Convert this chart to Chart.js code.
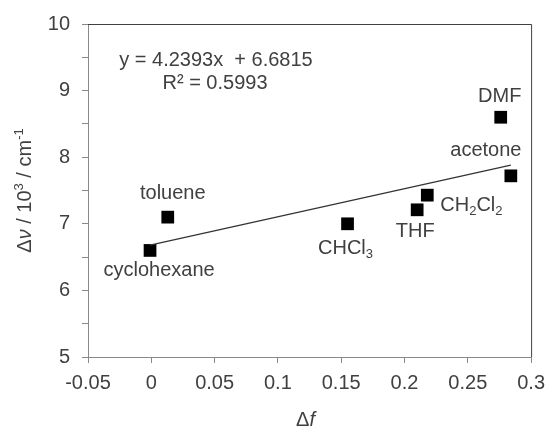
<!DOCTYPE html>
<html>
<head>
<meta charset="utf-8">
<script src="https://cdn.jsdelivr.net/npm/chart.js@4.4.1/dist/chart.umd.min.js"></script>
<style>
  body { margin: 0; background: #fff; }
</style>
</head>
<body>
<canvas id="myChart" width="553" height="432"></canvas>
<script>
// values
const solvents = ['cyclohexane', 'toluene', 'CHCl3', 'THF', 'CH2Cl2', 'acetone', 'DMF'];
const deltaF = [-0.001, 0.013, 0.155, 0.210, 0.218, 0.284, 0.276];
const deltaNu = [6.60, 7.10, 7.00, 7.21, 7.43, 7.72, 8.60];
const trendX = [-0.001, 0.284];
const trendY = [6.68, 7.88];
const xTicks = [-0.05, 0, 0.05, 0.1, 0.15, 0.2, 0.25, 0.3];
const yTicks = [5, 6, 7, 8, 9, 10];
const fitText = ['y = 4.2393x  + 6.6815', 'R\u00b2 = 0.5993'];

const FONT = "'Liberation Sans', Arial, sans-serif";
const TEXT = '#404040';
const AXIS = '#898989';

// where each label sits relative to its point (px)
const labelOffsets = {
  cyclohexane: [9, 20, 'center'],
  toluene: [5, -24, 'center'],
  CHCl3: [-2, 25, 'center'],
  THF: [-2, 22, 'center'],
  CH2Cl2: [13, 10, 'left'],
  acetone: [-25, -25, 'center'],
  DMF: [-1, -21, 'center']
};

// split "CH2Cl2" into text + subscripts
function chemParts(name) {
  const parts = [];
  name.replace(/(\d+)|(\D+)/g, (m, d, t) => {
    parts.push(d ? { text: d, sub: true } : { text: t });
  });
  return parts;
}

function drawRich(ctx, parts, x, y, align, size) {
  const small = Math.round(size * 0.65);
  const fontOf = p => (p.italic ? 'italic ' : '') + (p.sub || p.sup ? small : size) + 'px ' + FONT;
  let total = 0;
  parts.forEach(p => { ctx.font = fontOf(p); p.w = ctx.measureText(p.text).width; total += p.w; });
  let cx = align === 'left' ? x : x - total / 2;
  ctx.textAlign = 'left';
  ctx.textBaseline = 'middle';
  parts.forEach(p => {
    ctx.font = fontOf(p);
    let dy = 0;
    if (p.sub) dy = size * 0.3;
    if (p.sup) dy = -size * 0.3;
    ctx.fillText(p.text, cx, y + dy);
    cx += p.w;
  });
}

const extras = {
  id: 'extras',
  afterDatasetsDraw(chart) {
    const ctx = chart.ctx;
    const a = chart.chartArea;
    ctx.save();
    // top and right frame
    ctx.strokeStyle = '#404040';
    ctx.lineWidth = 1;
    ctx.beginPath();
    ctx.moveTo(a.left, a.top + 0.5);
    ctx.lineTo(a.right + 0.5, a.top + 0.5);
    ctx.lineTo(a.right + 0.5, a.bottom);
    ctx.stroke();

    ctx.fillStyle = TEXT;
    // point labels
    const meta = chart.getDatasetMeta(0);
    meta.data.forEach((pt, i) => {
      const off = labelOffsets[solvents[i]];
      drawRich(ctx, chemParts(solvents[i]), pt.x + off[0], pt.y + off[1], off[2], 20);
    });

    // trendline equation
    ctx.font = '20px ' + FONT;
    ctx.textAlign = 'center';
    ctx.textBaseline = 'middle';
    ctx.fillText(fitText[0], 216, 60);
    ctx.fillText(fitText[1], 215, 83);

    // x axis title
    drawRich(ctx, [{ text: '\u0394' }, { text: 'f', italic: true }], (a.left + a.right) / 2 - 4, 420, 'center', 20);

    // y axis title
    ctx.translate(25, (a.top + a.bottom) / 2);
    ctx.rotate(-Math.PI / 2);
    drawRich(ctx, [
      { text: '\u0394' }, { text: '\u03bd', italic: true }, { text: ' / 10' },
      { text: '3', sup: true }, { text: ' / cm' }, { text: '-1', sup: true }
    ], 0, 0, 'center', 20);
    ctx.restore();
  }
};

const ctx = document.getElementById('myChart');

new Chart(ctx, {
  type: 'scatter',
  data: {
    datasets: [{
      label: 'solvents',
      data: deltaF.map((x, i) => ({ x: x, y: deltaNu[i] })),
      pointStyle: 'rect',
      pointRadius: 9,
      pointHoverRadius: 9,
      backgroundColor: '#000',
      borderWidth: 0,
      order: 2
    }, {
      label: 'trend',
      type: 'line',
      data: trendX.map((x, i) => ({ x: x, y: trendY[i] })),
      borderColor: '#333',
      borderWidth: 1.25,
      pointRadius: 0,
      fill: false,
      order: 1
    }]
  },
  options: {
    responsive: false,
    animation: false,
    events: [],
    layout: { padding: { top: 24, right: 20, left: 0, bottom: 0 } },
    plugins: {
      legend: { display: false },
      tooltip: { enabled: false }
    },
    scales: {
      x: {
        type: 'linear',
        min: -0.05,
        max: 0.3,
        afterFit: s => { s.height = 75; },
        border: { color: AXIS, width: 1 },
        grid: { drawOnChartArea: false, drawTicks: true, tickLength: 6, color: AXIS },
        ticks: {
          stepSize: 0.05,
          autoSkip: false,
          maxRotation: 0,
          padding: 8,
          color: TEXT,
          font: { family: FONT, size: 20 },
          callback: v => {
            const t = xTicks.find(k => Math.abs(k - v) < 1e-6);
            return t === undefined ? '' : String(t);
          }
        }
      },
      y: {
        min: 5,
        max: 10,
        afterFit: s => { s.width = 88; },
        border: { color: AXIS, width: 1 },
        grid: { drawOnChartArea: false, drawTicks: true, tickLength: 6, color: AXIS },
        ticks: {
          stepSize: 0.5,
          autoSkip: false,
          padding: 12,
          color: TEXT,
          font: { family: FONT, size: 20 },
          callback: v => {
            const t = yTicks.find(k => Math.abs(k - v) < 1e-6);
            return t === undefined ? '' : String(t);
          }
        }
      }
    }
  },
  plugins: [extras]
});
</script>
</body>
</html>
